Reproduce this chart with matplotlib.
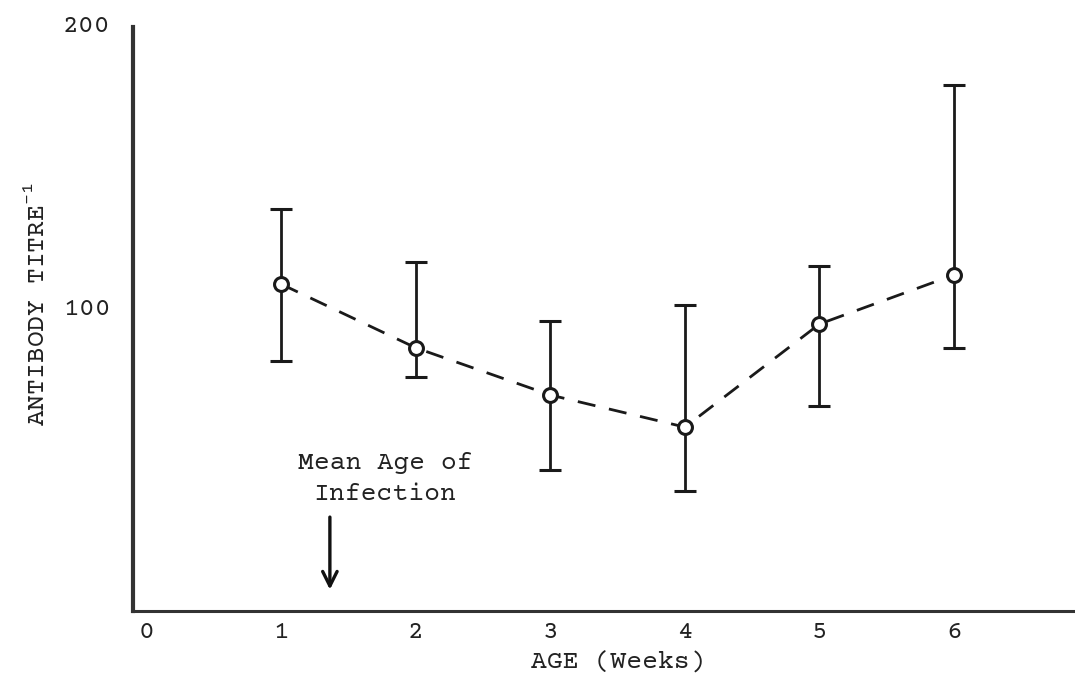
import matplotlib
matplotlib.use("Agg")
import matplotlib.pyplot as plt
import numpy as np

# Data
weeks = [1, 2, 3, 4, 5, 6]
titre_mean = [108, 85.6, 69, 57.7, 94, 111.3]
titre_upper = [134.5, 115.8, 95.1, 100.7, 114.4, 178.2]
titre_lower = [81.0, 75.4, 42.6, 35.2, 65.1, 85.6]
x_ticks = [0, 1, 2, 3, 4, 5, 6]
y_ticks = [100, 200]
infection_age = 1.36

plt.rcParams['font.family'] = ['Courier Prime', 'FreeMono', 'Liberation Mono', 'DejaVu Sans']

fig = plt.figure(figsize=(10.75, 6.74), dpi=100)
ax = fig.add_axes([0.1237, 0.0935, 0.8763, 0.877])

mean = np.array(titre_mean)
yerr = np.vstack([mean - np.array(titre_lower), np.array(titre_upper) - mean])

ink = '#1a1a1a'
ax.errorbar(weeks, titre_mean, yerr=yerr, fmt='none', ecolor=ink,
            elinewidth=2.0, capsize=8, capthick=2.2, zorder=2)
ax.plot(weeks, titre_mean, color=ink, lw=2.0, dashes=(6.5, 5), zorder=3)
ax.plot(weeks, titre_mean, linestyle='none', marker='o', markersize=10,
        markerfacecolor='white', markeredgecolor=ink, markeredgewidth=2.2,
        zorder=4)

ax.set_xlim(-0.104, 6.9)
ax.set_ylim(-7.04, 201.1)
ax.set_xticks(x_ticks)
ax.set_yticks(y_ticks)
ax.tick_params(axis='both', length=0, labelsize=19, colors='#222222')
ax.tick_params(axis='x', pad=7)
ax.tick_params(axis='y', pad=16)

for s in ['top', 'right']:
    ax.spines[s].set_visible(False)
ax.spines['bottom'].set_linewidth(2.2)
ax.spines['bottom'].set_color('#333333')
ax.spines['left'].set_linewidth(3.0)
ax.spines['left'].set_color('#333333')
ax.spines['left'].set_bounds(-7.04, 198.6)

ax.set_xlabel('AGE (Weeks)', fontsize=19, color='#222222')
ax.xaxis.set_label_coords(0.515, -0.068)
ax.set_ylabel('ANTIBODY TITRE$^{\\mathregular{-1}}$', fontsize=19, color='#222222')
ax.yaxis.set_label_coords(-0.089, 0.52)

ax.annotate('', xy=(infection_age, -0.5), xytext=(infection_age, 27),
            arrowprops=dict(arrowstyle='->', color='#111111', lw=2.4,
                            mutation_scale=26))
ax.text(1.77, 39.5, 'Mean Age of\nInfection', ha='center', va='center',
        fontsize=19, color='#222222', linespacing=1.55)

fig.savefig('out.png', dpi=100, facecolor='white')
